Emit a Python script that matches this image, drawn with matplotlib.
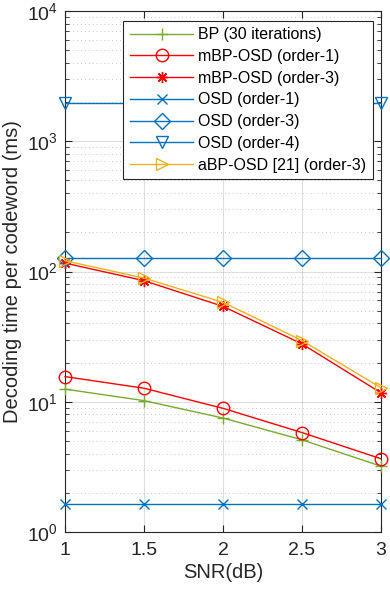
import matplotlib
matplotlib.use("Agg")
import matplotlib.pyplot as plt
from matplotlib.ticker import LogLocator, NullFormatter, FixedLocator

plt.rcParams['font.family'] = ['Liberation Sans', 'DejaVu Sans']
plt.rcParams['mathtext.fontset'] = 'custom'
plt.rcParams['mathtext.rm'] = 'Liberation Sans'
plt.rcParams['mathtext.it'] = 'Liberation Sans'

snr = [1, 1.5, 2, 2.5, 3]
bp_30 = [12.5, 10.2, 7.5, 5.1, 3.2]
mbp_osd1 = [15.6, 12.7, 8.9, 5.8, 3.65]
mbp_osd3 = [116, 85, 54, 27.8, 11.7]
osd1 = [1.65, 1.65, 1.65, 1.65, 1.65]
osd3 = [128, 128, 128, 128, 128]
osd4 = [1980, 1980, 1980, 1980, 1980]
abp_osd3 = [121, 89, 58, 29.5, 12.8]

labels = ['BP (30 iterations)', 'mBP-OSD (order-1)', 'mBP-OSD (order-3)',
          'OSD (order-1)', 'OSD (order-3)', 'OSD (order-4)', 'aBP-OSD [21] (order-3)']

blue = '#0072BD'
green = '#77AC30'
red = '#FF0000'
yellow = '#EDB120'

series = [
    (bp_30, green, '+', 9),
    (mbp_osd1, red, 'o', 9),
    (mbp_osd3, red, (8, 2, 0), 8),
    (osd1, blue, 'x', 7),
    (osd3, blue, 'D', 8),
    (osd4, blue, 'v', 9),
    (abp_osd3, yellow, '>', 9),
]

fig = plt.figure(figsize=(3.9, 5.89), dpi=100)
ax = fig.add_axes([65/390, 1-532/589, (381-65)/390, (532-11)/589])

for (vals, c, m, ms), lab in zip(series, labels):
    ax.plot(snr, vals, color=c, marker=m, markersize=ms, markerfacecolor='none',
            markeredgecolor=c, markeredgewidth=1.0, linewidth=1.0, label=lab,
            clip_on=False, zorder=3)

ax.set_yscale('log')
ax.set_xlim(1, 3)
ax.set_ylim(1, 1e4)
ax.xaxis.set_major_locator(FixedLocator(snr))
ax.set_xticklabels(['1', '1.5', '2', '2.5', '3'])
ax.yaxis.set_major_locator(LogLocator(base=10, numticks=10))
ax.yaxis.set_minor_locator(LogLocator(base=10, subs=range(2, 10), numticks=20))
ax.yaxis.set_minor_formatter(NullFormatter())

ax.grid(True, which='major', color='#262626', alpha=0.15, linewidth=0.8, linestyle='-')
ax.grid(True, which='minor', axis='y', color='#262626', alpha=0.25, linewidth=0.7, linestyle=(0, (1, 3)))
ax.set_axisbelow(True)

ax.tick_params(which='both', direction='in', top=True, right=True, labelsize=14,
               colors='#262626', labelcolor='#262626')
ax.tick_params(which='major', length=5, width=0.8)
ax.tick_params(which='minor', length=3, width=0.6)
ax.tick_params(axis='x', which='major', pad=7)
ax.tick_params(axis='y', which='major', pad=5)
ax.tick_params(axis='x', which='minor', bottom=False, top=False)
for sp in ax.spines.values():
    sp.set_color('#262626')
    sp.set_linewidth(0.8)

ax.set_xlabel('SNR(dB)', fontsize=14.5, color='#262626', labelpad=3)
ax.set_ylabel('Decoding time per codeword (ms)', fontsize=14.5, color='#262626', labelpad=4)

leg = ax.legend(loc='upper right', bbox_to_anchor=(0.974, 0.981), borderaxespad=0,
                fontsize=11.5, fancybox=False, edgecolor='#262626', framealpha=1,
                handlelength=4.0, handletextpad=0.3, labelspacing=0.42,
                borderpad=0.4)
leg.get_frame().set_linewidth(0.8)

fig.savefig('out.png', dpi=100)
